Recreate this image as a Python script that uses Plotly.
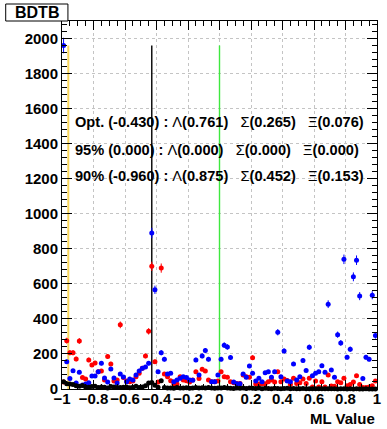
import numpy as np
import plotly.graph_objects as go

# Histogram binning of the ML output
n_bins = 100
x_lo, x_hi = -1.0, 1.0

# Bin contents per sample (bin 0 = lowest ML value)
counts_red = [
    40, 276, 207, 207, 171, 274, 65, 57, 166, 137,
    148, 99, 103, 51, 185, 143, 46, 51, 366, 65,
    46, 42, 46, 70, 90, 118, 189, 329, 700, 156,
    40, 690, 85, 70, 47, 29, 29, 70, 51, 47,
    40, 51, 99, 60, 112, 103, 51, 42, 42, 45,
    99, 70, 67, 42, 36, 32, 32, 80, 70, 67,
    179, 28, 28, 30, 30, 42, 51, 40, 99, 42,
    57, 48, 25, 61, 32, 36, 57, 32, 61, 12,
    46, 12, 42, 12, 80, 17, 15, 42, 36, 61,
    19, 25, 40, 76, 25, 8, 8, 12, 19, 46,
]
counts_blue = [
    1960, 156, 60, 104, 34, 95, 23, 29, 36, 74,
    74, 99, 147, 63, 40, 114, 63, 34, 86, 69,
    42, 57, 51, 80, 103, 118, 125, 147, 890, 566,
    99, 207, 170, 86, 90, 42, 51, 61, 70, 66,
    51, 50, 166, 80, 189, 219, 170, 42, 42, 80,
    170, 250, 240, 180, 40, 30, 30, 86, 67, 131,
    90, 46, 61, 42, 93, 99, 67, 99, 324, 70,
    217, 45, 42, 143, 51, 70, 162, 105, 238, 76,
    90, 99, 133, 95, 484, 109, 67, 310, 263, 740,
    181, 227, 640, 735, 530, 60, 181, 170, 535, 305,
]
counts_black = [
    42, 30, 28, 25, 18, 15, 20, 12, 10, 14,
    16, 8, 12, 10, 6, 14, 12, 9, 8, 10,
    12, 7, 10, 15, 8, 12, 18, 34, 37, 22,
    10, 47, 8, 6, 5, 4, 8, 6, 5, 7,
    4, 6, 8, 5, 7, 6, 9, 5, 4, 6,
    5, 8, 6, 4, 3, 5, 4, 6, 3, 5,
    4, 3, 5, 2, 4, 3, 2, 4, 3, 2,
    3, 4, 2, 3, 2, 1, 3, 2, 1, 2,
    1, 2, 1, 1, 2, 1, 1, 0, 1, 1,
    0, 1, 0, 1, 0, 0, 1, 0, 0, 0,
]
series_colors = ["#ff0000", "#0000ff", "#000000"]

# Working points: label, cut value, efficiencies and line style
wp_names = ["Opt.", "95%", "90%"]
wp_cuts = [-0.430, 0.000, -0.960]
eff_lambda = [0.761, 0.000, 0.875]
eff_sigma = [0.265, 0.000, 0.452]
eff_xi = [0.076, 0.000, 0.153]
wp_colors = ["#000000", "#3fe83f", "#f8d55a"]
wp_widths = [1.4, 1.4, 2]

bin_w = (x_hi - x_lo) / n_bins
centers = x_lo + (np.arange(n_bins) + 0.5) * bin_w

fig = go.Figure()

# Cut lines, as tall as the highest bin
y_top = max(max(counts_red), max(counts_blue), max(counts_black))
for cut, col, w in zip(wp_cuts[::-1], wp_colors[::-1], wp_widths[::-1]):
    fig.add_trace(go.Scatter(
        x=[cut, cut], y=[0, y_top], mode="lines",
        line=dict(color=col, width=w), hoverinfo="skip", showlegend=False,
    ))

for counts, col in zip([counts_red, counts_blue, counts_black], series_colors):
    fig.add_trace(go.Scatter(
        x=centers, y=counts, mode="markers",
        marker=dict(color=col, size=5),
        error_y=dict(type="sqrt", thickness=1, width=0, color=col),
        error_x=dict(type="constant", value=bin_w / 2, thickness=1, width=0, color=col),
        showlegend=False, cliponaxis=False,
    ))

# Plot frame in pixels: left 62, right 381, top 21, bottom 389
L, R, T, B = 62, 381, 21, 389
W, H = R - L, B - T


def px(xp):
    return (xp - L) / W


def py(yp):
    return (B - yp) / H


bold = dict(family="Liberation Sans, Arial, sans-serif", size=15, color="black", weight="bold")

axis_common = dict(
    showline=True, linecolor="black", linewidth=1, mirror="allticks",
    ticks="inside", tickcolor="black", tickwidth=1,
    showgrid=True, gridcolor="#c4c4c4", griddash="dot", gridwidth=1,
    zeroline=False, tickfont=bold, tickangle=0,
)

fig.update_layout(
    width=387, height=429, autosize=False,
    margin=dict(l=L, r=387 - R, t=T, b=429 - B, pad=0),
    paper_bgcolor="white", plot_bgcolor="white",
    xaxis=dict(
        range=[x_lo, x_hi], tick0=-1, dtick=0.2, ticklen=9, ticklabelstandoff=-4,
        minor=dict(dtick=0.05, ticklen=5, ticks="inside", tickcolor="black", showgrid=False),
        **axis_common,
    ),
    yaxis=dict(
        range=[0, 2100], tick0=0, dtick=200, ticklen=10,
        minor=dict(dtick=40, ticklen=5, ticks="inside", tickcolor="black", showgrid=False),
        **axis_common,
    ),
)

# Title box
fig.add_shape(type="rect", xref="paper", yref="paper",
              x0=px(5), x1=px(68), y0=py(21), y1=py(4),
              line=dict(color="black", width=1), fillcolor="white", layer="above")
fig.add_annotation(text="BDTB", xref="paper", yref="paper",
                   x=px(36.5), y=py(12.5), xanchor="center", yanchor="middle",
                   showarrow=False, font=dict(bold, size=16))

# Axis title
fig.add_annotation(text="ML Value", xref="paper", yref="paper",
                   x=1, y=py(418), xanchor="right", yanchor="middle",
                   showarrow=False, font=bold)

# Working-point summary
sp = "\u00a0"
line_y = [122, 150, 176]
for name, cut, la, si, xi, yy in zip(wp_names, wp_cuts, eff_lambda, eff_sigma, eff_xi, line_y):
    txt = (f"<b>{name} ({cut:.3f}) :</b>{sp}Λ<b>({la:.3f})</b>{sp*3}"
           f"Σ<b>({si:.3f})</b>{sp*3}Ξ<b>({xi:.3f})</b>")
    fig.add_annotation(text=txt, xref="paper", yref="paper",
                       x=px(73), y=py(yy), xanchor="left", yanchor="middle",
                       showarrow=False,
                       font=dict(family="Liberation Sans, Arial, sans-serif", size=14.6, color="black"))

fig.write_html("out.html")
